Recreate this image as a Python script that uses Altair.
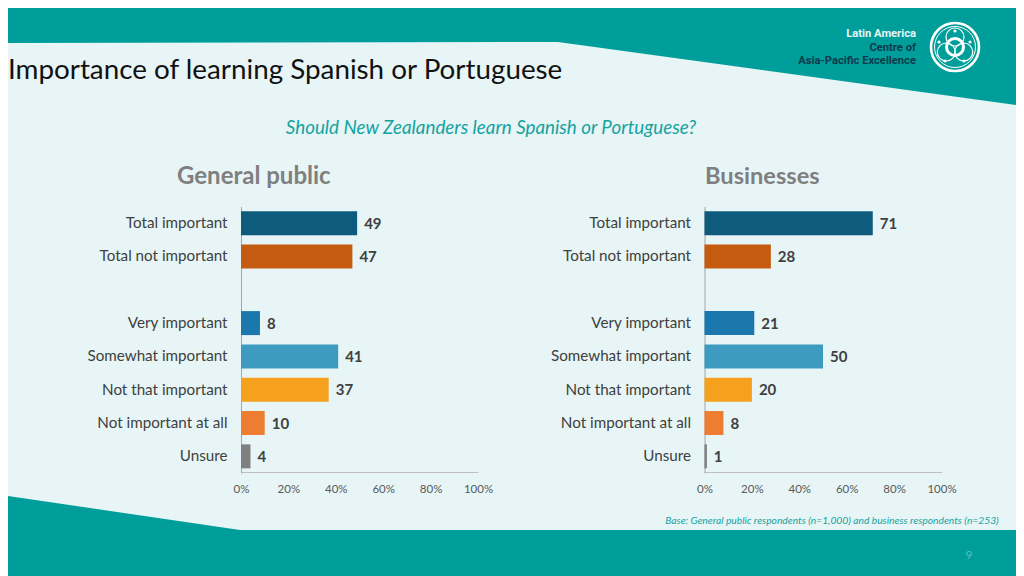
import altair as alt
import pandas as pd

CATS = ["Total important", "Total not important", " ", "Very important", "Somewhat important",
        "Not that important", "Not important at all", "Unsure"]
ROWS = ["Total important", "Total not important", "Very important", "Somewhat important",
        "Not that important", "Not important at all", "Unsure"]
COLORS = ["#0F5B7D", "#C55A11", "#1B78AE", "#3D9BC0", "#F6A11E", "#ED7D31", "#7F7F7F"]
PUBLIC = [49, 47, 8, 41, 37, 10, 4]
BUSINESS = [71, 28, 21, 50, 20, 8, 1]
TICKS = [0, 20, 40, 60, 80, 100]

TEAL = "#009E9A"
BG = "#E7F5F6"
FONT = "Lato"

# page-pixel scales for the slide decoration (the page has an 8px margin)
dx = alt.Scale(domain=[8, 1016], range=[0, 1008], clamp=True)
dy = alt.Scale(domain=[8, 576], range=[0, 568], clamp=True)
X = alt.X("x:Q", scale=dx, axis=None)
Y = alt.Y("y:Q", scale=dy, axis=None)


def band(xs, tops, bottoms):
    df = pd.DataFrame({"x": xs, "y": tops, "y2": bottoms})
    return alt.Chart(df).mark_area(color=TEAL, opacity=1, orient="vertical").encode(x=X, y=Y, y2="y2:Q")


def label(text, x, y, size, color, align="left", weight="normal", style="normal", font=FONT):
    df = pd.DataFrame({"x": [x], "y": [y], "t": [text]})
    return alt.Chart(df).mark_text(
        fontSize=size, color=color, align=align, baseline="alphabetic",
        fontWeight=weight, fontStyle=style, font=font,
    ).encode(x=X, y=Y, text="t:N")


def ring(cx, cy, r, sw):
    df = pd.DataFrame({"x": [cx], "y": [cy]})
    return alt.Chart(df).mark_point(
        shape="circle", filled=False, color="white", strokeWidth=sw,
        size=(2 * r) ** 2, opacity=1,
    ).encode(x=X, y=Y)


deco = [
    band([8, 558, 1016], [8, 8, 8], [43, 42, 105]),
    band([8, 240, 1016], [496, 530, 530], [576, 576, 576]),
    ring(955, 47, 24, 2.6),
    ring(955, 47, 20.5, 1),
    ring(955, 37, 9, 1.2),
    ring(946.3, 52, 9, 1.2),
    ring(963.7, 52, 9, 1.2),
    ring(955, 47, 8.5, 3),
    ring(955, 31, 0.8, 1.6),
    ring(939, 42, 0.8, 1.6),
    ring(970, 42, 0.8, 1.6),
    ring(945, 61, 0.8, 1.6),
    ring(964, 61, 0.8, 1.6),
    label("Importance of learning Spanish or Portuguese", 8, 79, 27.8, "#111111"),
    label("Should New Zealanders learn Spanish or Portuguese?", 491, 134, 18.8, "#14A3A0", "center", style="italic"),
    label("General public", 177, 184, 24, "#7F7F7F", weight="bold"),
    label("Businesses", 705, 184, 23.6, "#7F7F7F", weight="bold"),
    label("Latin America", 916, 37, 11.2, "#E7F5F6", "right", "bold", font="Roboto"),
    label("Centre of", 916, 50.5, 11.2, "#0C3B4C", "right", "bold", font="Roboto"),
    label("Asia-Pacific Excellence", 916, 64, 11.2, "#0C3B4C", "right", "bold", font="Roboto"),
    label("Base: General public respondents (n=1,000) and business respondents (n=253)", 832, 524, 10.25, "#14A3A0", "center", style="italic"),
    label("9", 969, 559, 12, "#5FBDBB", "center"),
]


def panel(values, x0):
    df = pd.DataFrame({"cat": ROWS, "v": values, "c": COLORS})
    xs = alt.Scale(domain=[0, 100], range=[x0 - 8, x0 + 237 - 8])
    ys = alt.Scale(domain=CATS, range=[198.5, 465], paddingInner=0.28, paddingOuter=0.14)
    x_axis = alt.Axis(orient="bottom", values=TICKS, labelExpr="datum.value + '%'", title=None, ticks=False, grid=False,
                      domainColor="#BFBFBF", domainWidth=1.2, labelColor="#595959", labelFont=FONT,
                      labelFontSize=11.5, labelPadding=11, offset=-104, labelFlush=False)
    y_axis = alt.Axis(orient="left", title=None, ticks=False, grid=False, domainColor="#A6A6A6", domainWidth=1,
                      labelColor="#404040", labelFont=FONT, labelFontSize=15.2, labelPadding=14,
                      offset=-(x0 - 8), labelLimit=200)
    bars = alt.Chart(df).mark_bar(opacity=1).encode(
        x=alt.X("v:Q", scale=xs, axis=x_axis),
        y=alt.Y("cat:N", scale=ys, axis=y_axis),
        color=alt.Color("c:N", scale=None),
    )
    text = alt.Chart(df).mark_text(
        align="left", baseline="middle", dx=7, dy=0.5, fontSize=15, fontWeight="bold",
        color="#404040", font=FONT,
    ).encode(
        x=alt.X("v:Q", scale=xs, axis=None),
        y=alt.Y("cat:N", scale=ys, axis=None),
        text="v:Q",
    )
    return [bars, text]


chart = alt.layer(*deco, *panel(PUBLIC, 241), *panel(BUSINESS, 704.5)).resolve_scale(
    x="independent", y="independent"
).resolve_axis(x="independent", y="independent").properties(
    width=1008, height=568, padding=0, background=BG,
    autosize=alt.AutoSizeParams(type="none"),
).configure_view(stroke=None)

chart.save("out.html", embed_options={"renderer": "svg", "actions": False})
